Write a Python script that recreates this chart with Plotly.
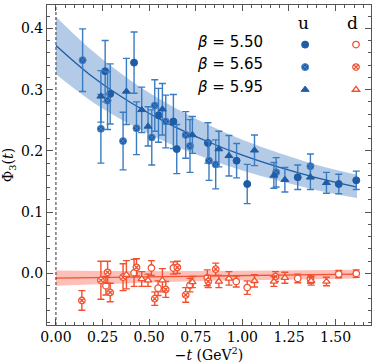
import plotly.graph_objects as go

# fit curves
fit_t = [0.0, 0.2, 0.4, 0.6, 0.8, 1.0, 1.2, 1.4, 1.615]
u_fit = [0.372, 0.320, 0.279, 0.245, 0.217, 0.193, 0.173, 0.156, 0.141]
u_hi = [0.419, 0.362, 0.315, 0.277, 0.245, 0.218, 0.196, 0.177, 0.161]
u_lo = [0.325, 0.279, 0.243, 0.213, 0.189, 0.168, 0.151, 0.136, 0.123]

d_t = [0.0, 0.4, 0.8, 1.2, 1.615]
d_fit = [-0.0075, -0.0059, -0.0042, -0.0026, -0.001]
d_hi = [0.005, 0.004, 0.004, 0.005, 0.006]
d_lo = [-0.020, -0.016, -0.012, -0.010, -0.008]

# u quark, three lattice spacings
u550_t = [0.264, 0.291, 0.419, 0.550, 0.630, 0.648, 0.815, 0.969, 1.026, 1.297, 1.517, 1.611]
u550_y = [0.330, 0.293, 0.344, 0.258, 0.248, 0.203, 0.213, 0.184, 0.146, 0.157, 0.146, 0.152]
u550_e = [0.050, 0.049, 0.050, 0.044, 0.044, 0.040, 0.033, 0.028, 0.032, 0.020, 0.016, 0.015]

u565_t = [0.143, 0.241, 0.277, 0.360, 0.432, 0.514, 0.530, 0.589, 0.696, 0.719, 0.821, 0.857, 1.181, 1.365]
u565_y = [0.348, 0.236, 0.282, 0.216, 0.237, 0.222, 0.274, 0.248, 0.226, 0.208, 0.184, 0.178, 0.165, 0.175]
u565_e = [0.051, 0.056, 0.047, 0.047, 0.043, 0.045, 0.042, 0.043, 0.038, 0.043, 0.032, 0.040, 0.024, 0.020]

u595_t = [0.241, 0.378, 0.460, 0.494, 0.571, 0.732, 0.874, 0.928, 1.065, 1.169, 1.228, 1.365, 1.451]
u595_y = [0.289, 0.297, 0.267, 0.240, 0.268, 0.226, 0.203, 0.192, 0.201, 0.160, 0.153, 0.157, 0.148]
u595_e = [0.042, 0.054, 0.037, 0.032, 0.042, 0.030, 0.029, 0.033, 0.025, 0.021, 0.020, 0.020, 0.017]

# d quark
d550_t = [0.268, 0.419, 0.512, 0.548, 0.630, 0.719, 0.812, 0.967, 1.026, 1.297, 1.517, 1.611]
d550_y = [-0.020, 0.001, 0.009, -0.024, 0.009, -0.019, -0.007, -0.013, -0.023, -0.008, -0.001, 0.000]
d550_e = [0.015, 0.022, 0.012, 0.012, 0.010, 0.011, 0.013, 0.009, 0.011, 0.007, 0.006, 0.006]

d565_t = [0.139, 0.241, 0.277, 0.291, 0.360, 0.432, 0.530, 0.589, 0.651, 0.696, 0.817, 0.857, 1.178, 1.365]
d565_y = [-0.044, -0.011, 0.002, -0.031, -0.006, 0.010, -0.041, -0.026, 0.010, -0.035, -0.013, 0.007, -0.005, -0.009]
d565_e = [0.016, 0.031, 0.018, 0.015, 0.022, 0.014, 0.011, 0.013, 0.010, 0.012, 0.010, 0.010, 0.008, 0.007]

d595_t = [0.378, 0.460, 0.494, 0.571, 0.732, 0.874, 0.928, 1.065, 1.169, 1.228, 1.369, 1.451]
d595_y = [-0.002, -0.009, -0.011, -0.011, -0.014, -0.013, -0.008, -0.012, -0.013, -0.007, -0.012, -0.013]
d595_e = [0.023, 0.012, 0.010, 0.019, 0.009, 0.010, 0.011, 0.010, 0.008, 0.009, 0.007, 0.007]

betas = ['5.50', '5.65', '5.95']

BLUE = '#1f5ca6'
BLUE_ERR = '#3a7cc2'
RED = '#f2502e'

fig = go.Figure()

# bands + fit lines
fig.add_trace(go.Scatter(x=fit_t, y=u_lo, mode='lines', line=dict(width=0, shape='spline'),
                         showlegend=False, hoverinfo='skip'))
fig.add_trace(go.Scatter(x=fit_t, y=u_hi, mode='lines', line=dict(width=0, shape='spline'),
                         fill='tonexty', fillcolor='rgba(45,110,185,0.36)', showlegend=False, hoverinfo='skip'))
fig.add_trace(go.Scatter(x=fit_t, y=u_fit, mode='lines', line=dict(width=1.3, color=BLUE, shape='spline'),
                         showlegend=False))
fig.add_trace(go.Scatter(x=d_t, y=d_lo, mode='lines', line=dict(width=0, shape='spline'),
                         showlegend=False, hoverinfo='skip'))
fig.add_trace(go.Scatter(x=d_t, y=d_hi, mode='lines', line=dict(width=0, shape='spline'),
                         fill='tonexty', fillcolor='rgba(248,90,70,0.38)', showlegend=False, hoverinfo='skip'))
fig.add_trace(go.Scatter(x=d_t, y=d_fit, mode='lines', line=dict(width=1.3, color=RED, shape='spline'),
                         showlegend=False))

u_sets = [(u550_t, u550_y, u550_e, 'circle'),
          (u565_t, u565_y, u565_e, 'circle-x'),
          (u595_t, u595_y, u595_e, 'triangle-up')]
d_sets = [(d550_t, d550_y, d550_e, 'circle'),
          (d565_t, d565_y, d565_e, 'circle-x'),
          (d595_t, d595_y, d595_e, 'triangle-up')]

for (t, y, e, sym), b in zip(u_sets, betas):
    fig.add_trace(go.Scatter(
        x=t, y=y, mode='markers', name=' ', legend='legend',
        error_y=dict(type='data', array=e, color=BLUE_ERR, thickness=1.4, width=3.5),
        marker=dict(symbol=sym, size=7, color=BLUE,
                    line=dict(width=1, color='#4d83c4' if sym == 'circle-x' else BLUE))))

for (t, y, e, sym), b in zip(d_sets, betas):
    fig.add_trace(go.Scatter(
        x=t, y=y, mode='markers', name=' ', legend='legend2',
        error_y=dict(type='data', array=e, color=RED, thickness=1.4, width=3.5),
        marker=dict(symbol=sym, size=6.5, color='white', line=dict(width=1.3, color=RED))))

fig.add_vline(x=0, line=dict(color='#333333', width=1, dash='3px,2px'))

for i, b in enumerate(betas):
    fig.add_annotation(text='<i>β</i> = ' + b, xref='paper', yref='paper',
                       x=0.458, y=0.884 - i * 0.0695, xanchor='left', yanchor='middle',
                       showarrow=False, font=dict(family='DejaVu Sans', size=15, color='black'))
for txt, xp in [('u', 0.793), ('d', 0.944)]:
    fig.add_annotation(text=txt, xref='paper', yref='paper', x=xp, y=0.945,
                       xanchor='center', yanchor='middle', showarrow=False,
                       font=dict(family='DejaVu Serif', size=17, color='black'))

leg = dict(bgcolor='rgba(0,0,0,0)', borderwidth=0, yanchor='top', xanchor='left',
           font=dict(size=15), itemwidth=30, tracegroupgap=0, traceorder='normal')
fig.update_layout(
    width=374, height=364,
    margin=dict(l=47, r=3, t=5, b=39, autoexpand=False),
    paper_bgcolor='white', plot_bgcolor='white',
    font=dict(family='DejaVu Serif', size=14, color='black'),
    legend=dict(leg, x=0.735, y=0.927),
    legend2=dict(leg, x=0.892, y=0.927),
    xaxis=dict(range=[-0.048, 1.69], tickvals=[0, 0.25, 0.5, 0.75, 1.0, 1.25, 1.5], tickformat='.2f',
               ticks='inside', ticklen=6, tickcolor='#555', showline=True, linecolor='#555',
               mirror='ticks', showgrid=False, zeroline=False, automargin=False,
               ticklabelstandoff=-1,
               minor=dict(dtick=0.05, ticks='inside', ticklen=3, tickcolor='#555'),
               title=dict(text='−<i>t</i> (GeV<sup>2</sup>)', font=dict(size=14), standoff=4)),
    yaxis=dict(range=[-0.084, 0.438], dtick=0.1, tickformat='.1f',
               ticks='inside', ticklen=6, tickcolor='#555', showline=True, linecolor='#555',
               mirror='ticks', showgrid=False, zeroline=False, automargin=False,
               minor=dict(dtick=0.02, ticks='inside', ticklen=3, tickcolor='#555'),
               title=dict(text='Φ<sub>3</sub>(<i>t</i>)', font=dict(size=14), standoff=6)),
)

fig.write_html('out.html', config={'displayModeBar': False},
               post_script="document.body.style.margin='0px';")
